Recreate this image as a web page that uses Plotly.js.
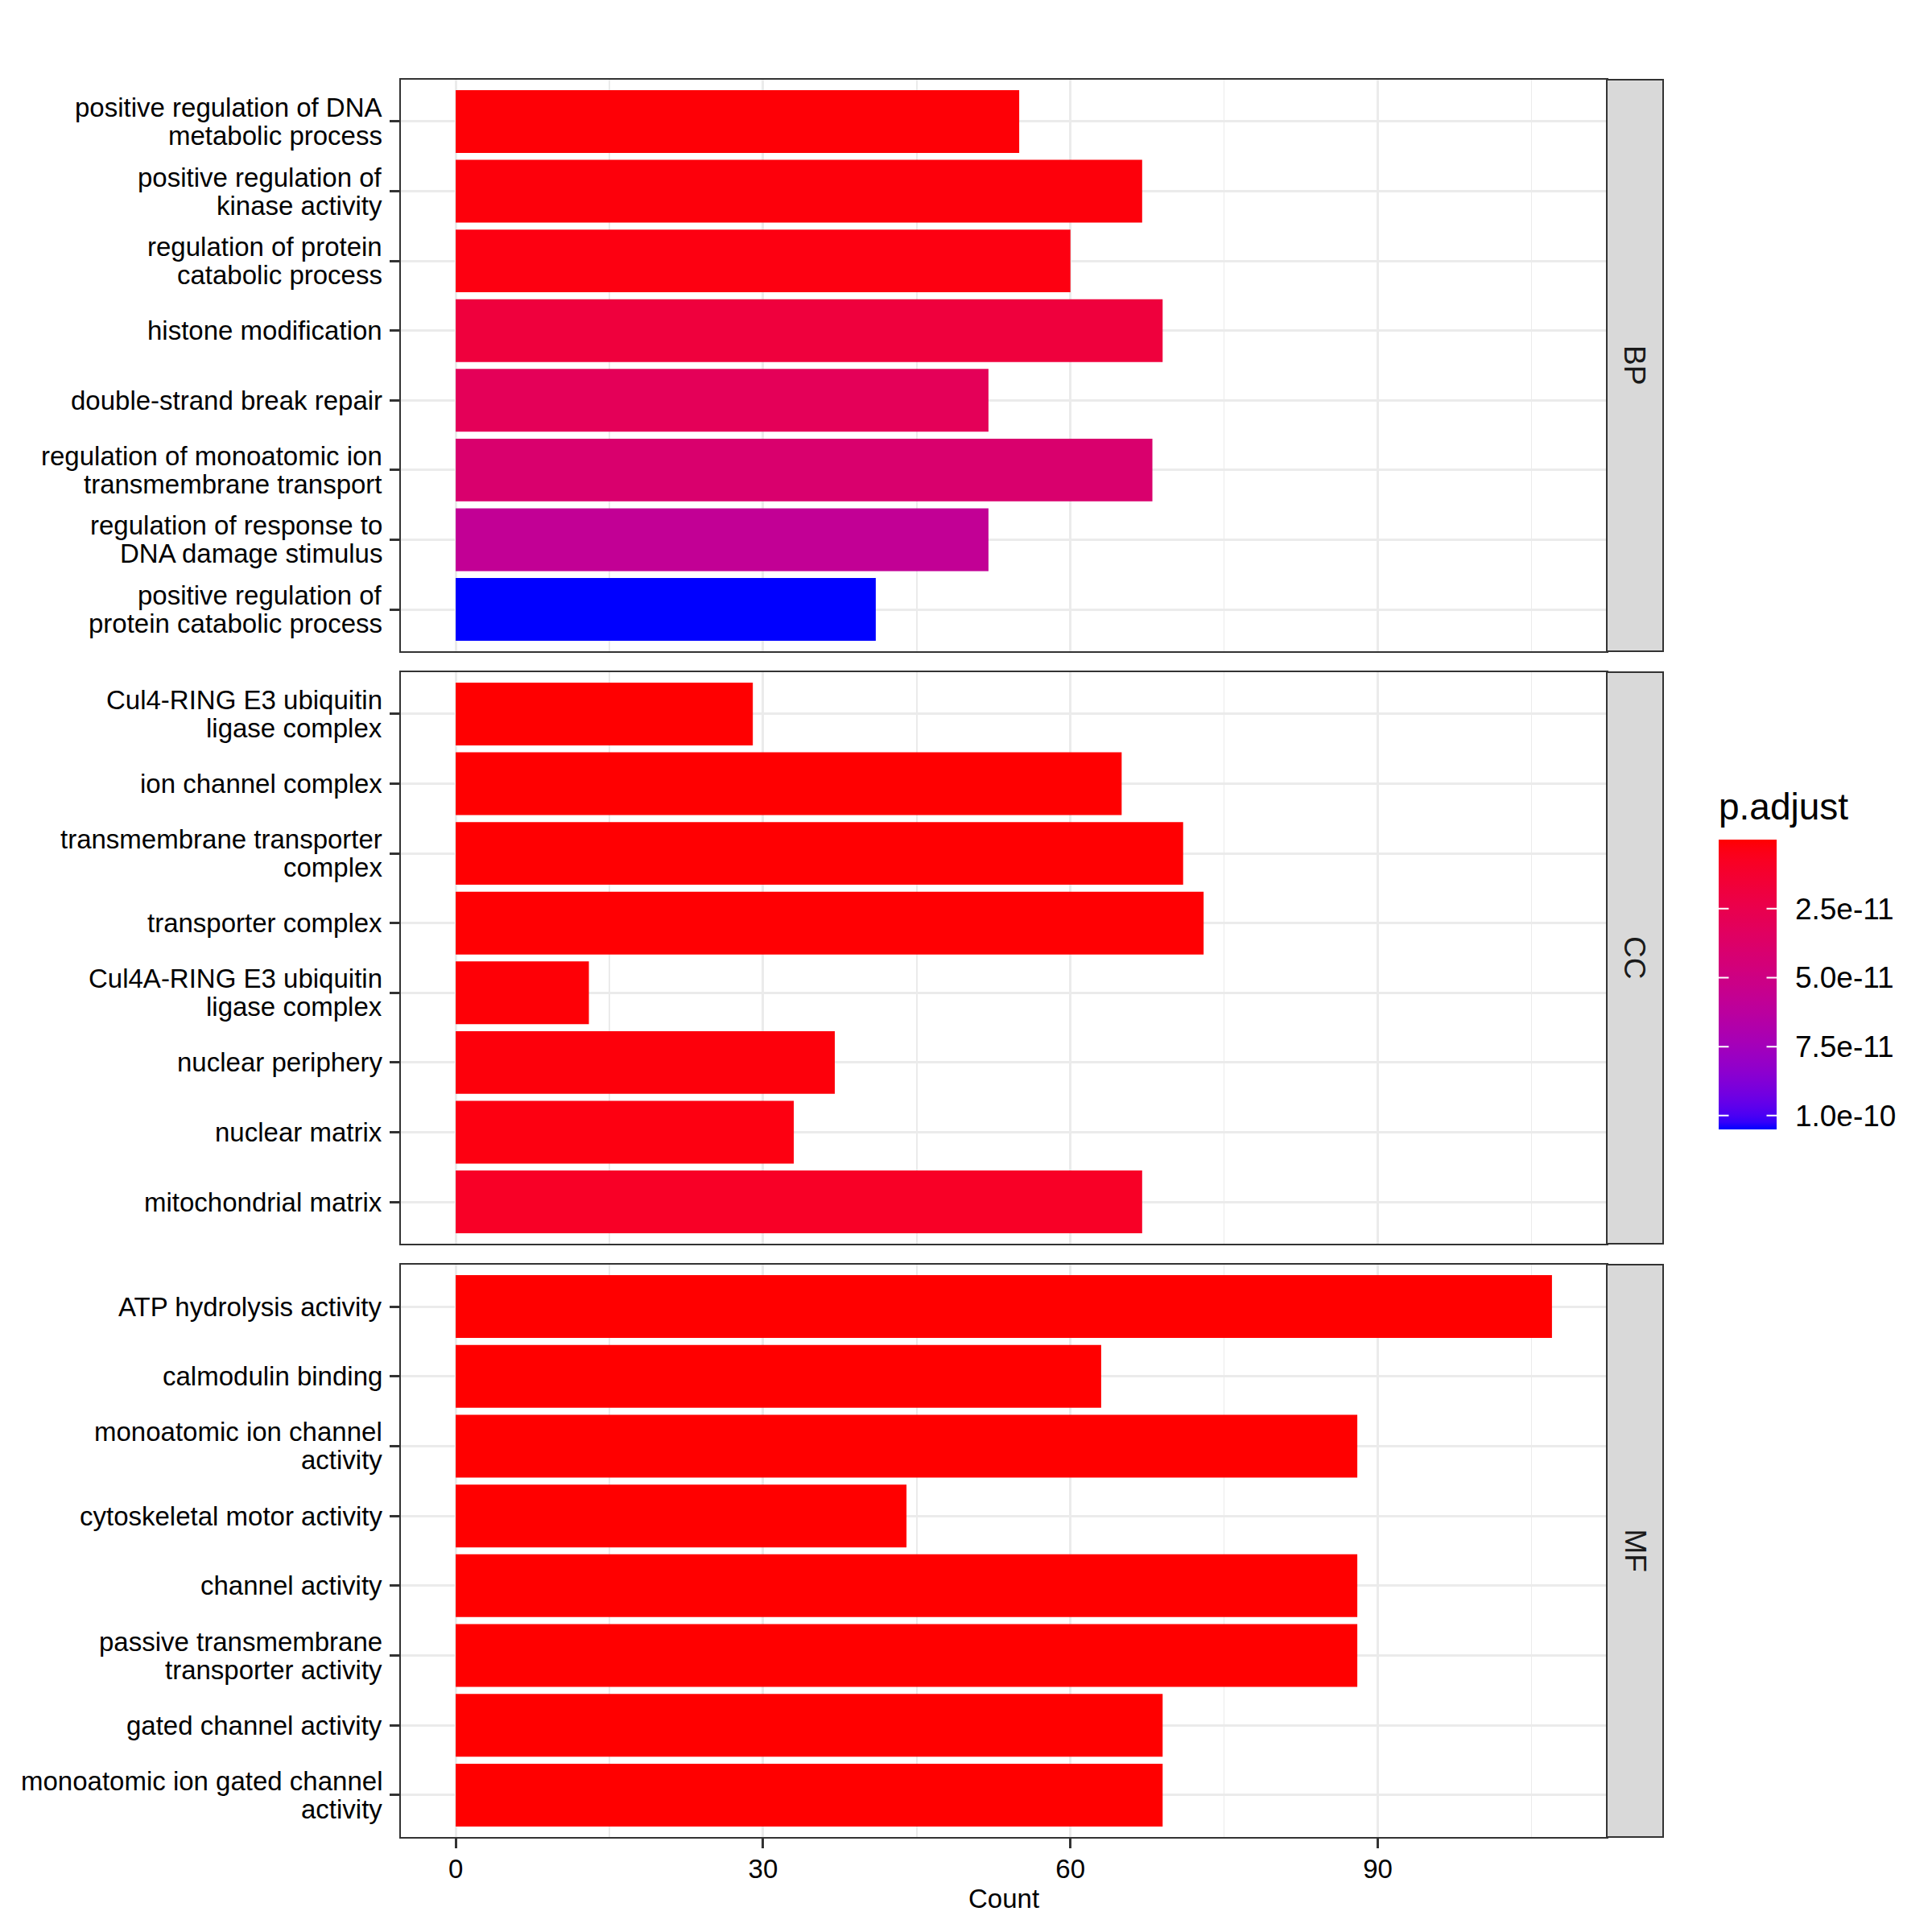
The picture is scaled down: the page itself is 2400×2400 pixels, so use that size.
<!DOCTYPE html>
<html>
<head>
<meta charset="utf-8">
<script src="https://cdn.plot.ly/plotly-3.0.1.min.js"></script>
<style>html,body{margin:0;padding:0;background:#fff;}</style>
</head>
<body>
<div id="chart" style="width:2400px;height:2400px;"></div>
<script>
// ---------------- data ----------------
const bpTerms = [
  "positive regulation of DNA<br>metabolic process",
  "positive regulation of<br>kinase activity",
  "regulation of protein<br>catabolic process",
  "histone modification",
  "double-strand break repair",
  "regulation of monoatomic ion<br>transmembrane transport",
  "regulation of response to<br>DNA damage stimulus",
  "positive regulation of<br>protein catabolic process"
];
const bpCount = [55, 67, 60, 69, 52, 68, 52, 41];
const bpPadj  = [1e-12, 2e-12, 3e-12, 1.8e-11, 3.0e-11, 4.0e-11, 5.8e-11, 1.05e-10];

const ccTerms = [
  "Cul4-RING E3 ubiquitin<br>ligase complex",
  "ion channel complex",
  "transmembrane transporter<br>complex",
  "transporter complex",
  "Cul4A-RING E3 ubiquitin<br>ligase complex",
  "nuclear periphery",
  "nuclear matrix",
  "mitochondrial matrix"
];
const ccCount = [29, 65, 71, 73, 13, 37, 33, 67];
const ccPadj  = [1e-13, 2e-13, 4e-13, 6e-13, 1e-12, 2e-12, 3e-12, 9e-12];

const mfTerms = [
  "ATP hydrolysis activity",
  "calmodulin binding",
  "monoatomic ion channel<br>activity",
  "cytoskeletal motor activity",
  "channel activity",
  "passive transmembrane<br>transporter activity",
  "gated channel activity",
  "monoatomic ion gated channel<br>activity"
];
const mfCount = [107, 63, 88, 44, 88, 88, 69, 69];
const mfPadj  = [1e-20, 1e-19, 1e-18, 1e-17, 1e-16, 1e-15, 1e-15, 1e-15];

const facetNames = ["BP", "CC", "MF"];
const colorTicks = [2.5e-11, 5.0e-11, 7.5e-11, 1.0e-10];
const colorTickText = ["2.5e-11", "5.0e-11", "7.5e-11", "1.0e-10"];
const xTicks = [0, 30, 60, 90];

// ---------------- style helpers ----------------
const FONT = "Liberation Sans, Arial, Helvetica, sans-serif";
const W = 2400, H = 2400;
function lab2rgb(L, a, b) {
  const fy = (L + 16) / 116, fx = fy + a / 500, fz = fy - b / 200;
  const finv = t => (t > 0.206893 ? t * t * t : (t - 16 / 116) / 7.787);
  const X = 0.95047 * finv(fx), Y = finv(fy), Z = 1.08883 * finv(fz);
  let r = 3.2404542 * X - 1.5371385 * Y - 0.4985314 * Z;
  let g = -0.9692660 * X + 1.8760108 * Y + 0.0415560 * Z;
  let bb = 0.0556434 * X - 0.2040259 * Y + 1.0572252 * Z;
  const gam = c => { c = c <= 0.0031308 ? 12.92 * c : 1.055 * Math.pow(c, 1 / 2.4) - 0.055; return Math.round(Math.max(0, Math.min(1, c)) * 255); };
  return "rgb(" + gam(r) + "," + gam(g) + "," + gam(bb) + ")";
}
const labLow = [53.2408, 80.0925, 67.2032];   // red  (low p.adjust)
const labHigh = [32.2970, 79.1875, -107.8602]; // blue (high p.adjust)
// colour axis runs on -p.adjust so that the bar shows low p (red) at the top
const colorscale = [];
for (let i = 0; i <= 40; i++) {
  const s = i / 40;
  const t = 1 - s;
  colorscale.push([s, lab2rgb(labLow[0] + (labHigh[0] - labLow[0]) * t,
                              labLow[1] + (labHigh[1] - labLow[1]) * t,
                              labLow[2] + (labHigh[2] - labLow[2]) * t)]);
}

// panel geometry (pixels)
const panelLeft = 498, panelRight = 1996, stripRight = 2066;
const panels = [[99, 809], [835, 1545], [1571, 2282]];
const px2x = p => p / W;
const px2y = p => 1 - p / H;
const LABEL_SIZE = 33, LINE_GAP = 35;

const allCounts = bpCount.concat(ccCount, mfCount);
const maxCount = Math.max(...allCounts);
const xRange = [-0.05 * maxCount, maxCount * 1.05];
const allP = bpPadj.concat(ccPadj, mfPadj);
const pMin = Math.min(...allP), pMax = Math.max(...allP);

const facets = [
  { terms: bpTerms, count: bpCount, padj: bpPadj },
  { terms: ccTerms, count: ccCount, padj: ccPadj },
  { terms: mfTerms, count: mfCount, padj: mfPadj }
];

const cbCenter = 1223, cbLen = 360, cbLeft = 2135, cbThick = 72;
const traces = [];
const layout = {
  width: W, height: H,
  margin: { l: 0, r: 0, t: 0, b: 0 },
  paper_bgcolor: "#ffffff",
  plot_bgcolor: "#ffffff",
  showlegend: false,
  font: { family: FONT, color: "#000000", size: 33 },
  shapes: [],
  annotations: [],
  coloraxis: {
    colorscale: colorscale,
    cmin: -pMax, cmax: -pMin,
    colorbar: {
      x: px2x(cbLeft), xanchor: "left",
      y: px2y(cbCenter), yanchor: "middle",
      lenmode: "pixels", len: cbLen,
      thicknessmode: "pixels", thickness: cbThick,
      outlinewidth: 0,
      ticks: "outside", ticklen: 16, tickwidth: 1, tickcolor: "#ffffff",
      tickvals: colorTicks.map(v => -v), ticktext: colorTickText,
      tickfont: { family: FONT, size: 37, color: "#000000" },
      xpad: 0, ypad: 0,
      title: { text: "" }
    }
  }
};

facets.forEach((f, i) => {
  const n = i + 1;
  const xa = n === 1 ? "x" : "x" + n;
  const ya = n === 1 ? "y" : "y" + n;
  traces.push({
    type: "bar", orientation: "h",
    x: f.count, y: f.terms,
    xaxis: xa, yaxis: ya,
    width: 0.9,
    marker: { color: f.padj.map(v => -v), coloraxis: "coloraxis", line: { width: 0 } },
    hoverinfo: "x+y"
  });
  const last = n === 3;
  layout[n === 1 ? "xaxis" : "xaxis" + n] = {
    domain: [px2x(panelLeft), px2x(panelRight)],
    anchor: ya,
    range: xRange,
    tickmode: "array", tickvals: xTicks, ticktext: xTicks.map(String),
    showticklabels: last,
    ticks: last ? "outside" : "",
    ticklen: 12, tickwidth: 3, tickcolor: "#333333",
    tickfont: { family: FONT, size: LABEL_SIZE, color: "#000000" },
    ticklabelstandoff: -3,
    showgrid: true, gridcolor: "#EBEBEB", gridwidth: 3,
    minor: { tickmode: "linear", tick0: 15, dtick: 30, showgrid: true, gridcolor: "#EBEBEB", gridwidth: 1.5, ticks: "" },
    zeroline: false,
    showline: true, mirror: true, linecolor: "#333333", linewidth: 2,
    automargin: false,
    fixedrange: true
  };
  layout[n === 1 ? "yaxis" : "yaxis" + n] = {
    domain: [px2y(panels[i][1]), px2y(panels[i][0])],
    anchor: xa,
    type: "category",
    categoryorder: "array",
    categoryarray: f.terms.slice().reverse(),
    range: [-0.6, f.terms.length - 0.4],
    ticks: "outside", ticklen: 12, tickwidth: 3, tickcolor: "#333333",
    showticklabels: false,
    showgrid: true, gridcolor: "#EBEBEB", gridwidth: 3,
    zeroline: false,
    showline: true, mirror: true, linecolor: "#333333", linewidth: 2,
    automargin: false,
    fixedrange: true
  };
  // category labels, placed on the category axis, one line per annotation (ggplot line spacing)
  f.terms.forEach(term => {
    const lines = term.split("<br>");
    lines.forEach((ln, k) => {
      layout.annotations.push({
        xref: "paper", yref: ya,
        x: px2x(panelLeft), y: term,
        xanchor: "right", yanchor: "middle",
        xshift: -22, yshift: ((lines.length - 1) / 2 - k) * LINE_GAP,
        text: ln, showarrow: false, borderpad: 0,
        font: { family: FONT, size: LABEL_SIZE, color: "#000000" }
      });
    });
  });
  // strip
  layout.shapes.push({
    type: "rect", xref: "paper", yref: "paper", layer: "above",
    x0: px2x(panelRight), x1: px2x(stripRight),
    y0: px2y(panels[i][1]), y1: px2y(panels[i][0]),
    fillcolor: "#D9D9D9", line: { color: "#333333", width: 2 }
  });
  layout.annotations.push({
    xref: "paper", yref: "paper",
    x: px2x((panelRight + stripRight) / 2), y: px2y((panels[i][0] + panels[i][1]) / 2),
    xanchor: "center", yanchor: "middle",
    text: facetNames[i], textangle: 90, showarrow: false,
    font: { family: FONT, size: 37, color: "#1A1A1A" }
  });
});

// x-axis title
layout.annotations.push({
  xref: "paper", yref: "paper",
  x: px2x((panelLeft + panelRight) / 2), y: px2y(2358),
  xanchor: "center", yanchor: "middle",
  text: "Count", showarrow: false,
  font: { family: FONT, size: 33, color: "#000000" }
});
// legend title
layout.annotations.push({
  xref: "paper", yref: "paper",
  x: px2x(2133), y: px2y(1002),
  xanchor: "left", yanchor: "middle",
  text: "p.adjust", showarrow: false,
  font: { family: FONT, size: 46, color: "#000000" }
});

// white tick marks on both inner edges of the colour bar (annotation arrows sit above the bar)
const cbTop = cbCenter - cbLen / 2, cbBottom = cbCenter + cbLen / 2;
colorTicks.forEach(v => {
  const ypx = cbBottom - ((-v) - (-pMax)) / (pMax - pMin) * (cbBottom - cbTop);
  [[cbLeft, 14], [cbLeft + cbThick, -14]].forEach(seg => {
    layout.annotations.push({
      xref: "paper", yref: "paper",
      x: px2x(seg[0]), y: px2y(ypx),
      axref: "pixel", ayref: "pixel", ax: seg[1], ay: 0,
      text: "", showarrow: true, arrowhead: 0, arrowwidth: 2,
      arrowcolor: "#ffffff", standoff: 0, startstandoff: 0
    });
  });
});

Plotly.newPlot("chart", traces, layout, { displayModeBar: false, staticPlot: true });
</script>
</body>
</html>
